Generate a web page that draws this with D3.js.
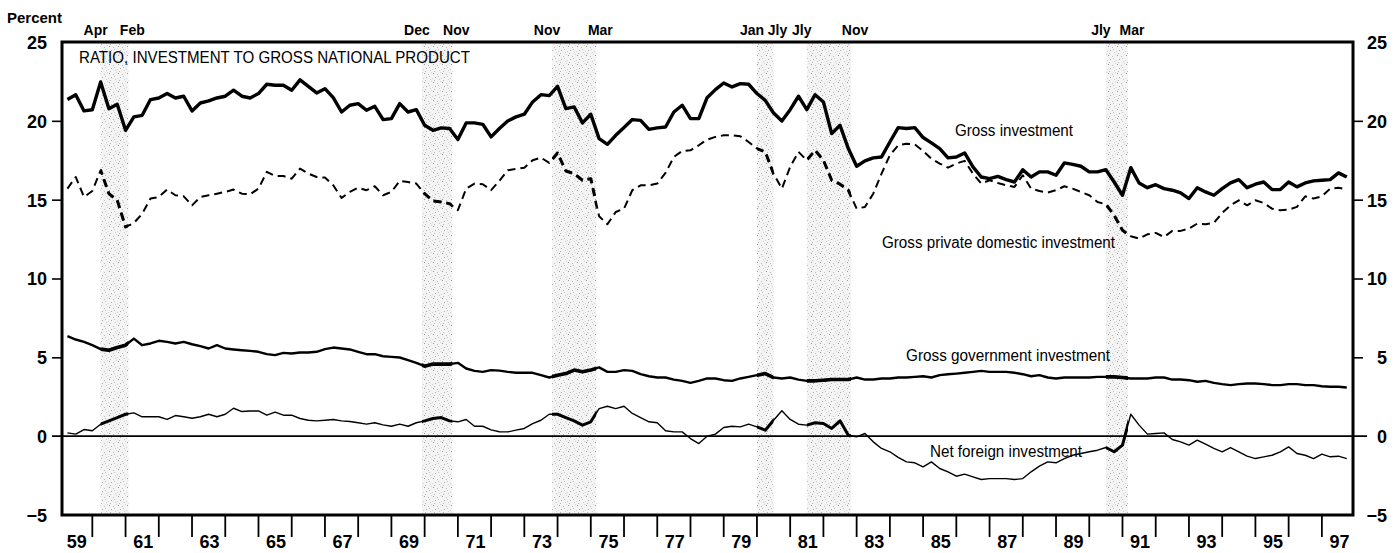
<!DOCTYPE html>
<html>
<head>
<meta charset="utf-8">
<script src="https://d3js.org/d3.v7.min.js"></script>
<style>
body { margin: 0; background: #fff; }
svg { display: block; font-family: "Liberation Sans", Arial, Helvetica, sans-serif; }
</style>
</head>
<body>
<svg width="1400" height="553"></svg>
<script>
//Quarterly ratios to GNP, first point is 1959 Q2
var firstQuarter = 1959.25

var grossInvestment = [
    21.35, 21.66, 20.63, 20.7, 22.47, 20.77, 21.05, 19.4, 20.25, 20.35,
    21.35, 21.45, 21.73, 21.45, 21.56, 20.63, 21.13, 21.26, 21.45, 21.56,
    21.94, 21.56, 21.45, 21.73, 22.32, 22.26, 22.26, 21.94, 22.6, 22.19,
    21.77, 22.04, 21.47, 20.56, 20.99, 21.09, 20.67, 20.92, 20.08, 20.14,
    21.09, 20.56, 20.71, 19.72, 19.4, 19.55, 19.51, 18.81, 19.87, 19.87,
    19.78, 18.98, 19.51, 19.99, 20.25, 20.42, 21.2, 21.66, 21.6, 22.19,
    20.77, 20.88, 19.87, 20.42, 18.87, 18.51, 19.08, 19.57, 20.08, 20.03,
    19.46, 19.55, 19.61, 20.56, 20.99, 20.14, 20.14, 21.47, 21.98, 22.4,
    22.15, 22.36, 22.32, 21.73, 21.3, 20.5, 19.99, 20.71, 21.56, 20.71,
    21.66, 21.2, 19.19, 19.72, 18.24, 17.12, 17.46, 17.65, 17.71, 18.66,
    19.57, 19.51, 19.57, 18.94, 18.6, 18.24, 17.65, 17.71, 17.96, 17.08,
    16.44, 16.33, 16.48, 16.27, 16.12, 16.9, 16.44, 16.76, 16.76, 16.55,
    17.33, 17.24, 17.12, 16.76, 16.76, 16.9, 16.12, 15.28, 17.03, 16.06,
    15.76, 15.95, 15.7, 15.6, 15.43, 15.07, 15.76, 15.49, 15.28, 15.7,
    16.06, 16.27, 15.76, 15.98, 16.12, 15.64, 15.64, 16.12, 15.81, 16.06,
    16.19, 16.23, 16.27, 16.7, 16.44
]

var privateInvestment = [
    15.7, 16.44, 15.17, 15.55, 16.86, 15.38, 14.96, 13.27, 13.52, 14.11,
    15.07, 15.17, 15.64, 15.28, 15.21, 14.64, 15.17, 15.28, 15.38, 15.49,
    15.64, 15.38, 15.34, 15.7, 16.76, 16.5, 16.5, 16.33, 16.97, 16.65,
    16.44, 16.4, 15.91, 15.11, 15.49, 15.76, 15.6, 15.85, 15.28, 15.49,
    16.19, 16.12, 16.02, 15.38, 14.92, 14.85, 14.75, 14.33, 15.7, 16.02,
    15.98, 15.6, 16.19, 16.86, 16.95, 17.03, 17.5, 17.67, 17.33, 17.96,
    16.82, 16.65, 16.23, 16.33, 13.95, 13.44, 14.22, 14.43, 15.6, 15.91,
    15.91, 16.02, 16.7, 17.71, 18.09, 18.13, 18.45, 18.81, 18.98, 19.08,
    19.08, 19.02, 18.66, 18.24, 18.03, 16.65, 15.7, 17.08, 18.03, 17.5,
    18.13, 17.5, 16.23, 15.98, 15.6, 14.43, 14.54, 15.38, 16.65, 17.82,
    18.45, 18.55, 18.51, 18.09, 17.6, 17.29, 17.03, 17.29, 17.46, 16.65,
    16.02, 16.23, 16.06, 15.91, 15.81, 16.55, 15.7, 15.55, 15.45, 15.6,
    15.85, 15.7, 15.49, 15.28, 14.85, 14.71, 14.01, 13.06, 12.68, 12.53,
    12.8, 12.89, 12.63, 13.02, 13.02, 13.16, 13.48, 13.44, 13.52, 14.16,
    14.64, 14.96, 14.64, 14.96, 14.79, 14.43, 14.33, 14.37, 14.54, 15.21,
    15.07, 15.21, 15.7, 15.76, 15.64
]

var governmentInvestment = [
    6.34, 6.13, 5.98, 5.77, 5.52, 5.45, 5.62, 5.77, 6.19, 5.77,
    5.88, 6.05, 5.98, 5.88, 5.98, 5.83, 5.71, 5.56, 5.77, 5.56,
    5.5, 5.45, 5.41, 5.35, 5.2, 5.14, 5.28, 5.24, 5.31, 5.31,
    5.35, 5.52, 5.62, 5.56, 5.5, 5.35, 5.2, 5.2, 5.07, 5.03,
    4.99, 4.82, 4.65, 4.44, 4.57, 4.57, 4.57, 4.65, 4.29, 4.14,
    4.08, 4.19, 4.16, 4.08, 4.02, 4.02, 4.02, 3.87, 3.72, 3.87,
    3.97, 4.19, 4.08, 4.19, 4.36, 4.08, 4.08, 4.19, 4.14, 3.93,
    3.8, 3.72, 3.72, 3.59, 3.51, 3.38, 3.51, 3.66, 3.66, 3.55,
    3.51, 3.66, 3.76, 3.87, 3.97, 3.72, 3.66, 3.72, 3.59, 3.51,
    3.51, 3.55, 3.59, 3.59, 3.59, 3.72, 3.59, 3.59, 3.66, 3.66,
    3.72, 3.72, 3.76, 3.8, 3.72, 3.87, 3.93, 3.97, 4.02, 4.08,
    4.14, 4.08, 4.08, 4.08, 4.02, 3.93, 3.8, 3.87, 3.72, 3.66,
    3.72, 3.72, 3.72, 3.72, 3.76, 3.76, 3.76, 3.72, 3.66, 3.66,
    3.66, 3.72, 3.72, 3.59, 3.59, 3.55, 3.45, 3.51, 3.38, 3.3,
    3.24, 3.3, 3.34, 3.34, 3.3, 3.24, 3.24, 3.3, 3.3, 3.24,
    3.24, 3.17, 3.13, 3.13, 3.09
]

var netForeignInvestment = [
    0.21, 0.13, 0.42, 0.34, 0.76, 0.97, 1.18, 1.39, 1.48, 1.23,
    1.23, 1.23, 1.06, 1.31, 1.23, 1.14, 1.23, 1.39, 1.23, 1.39,
    1.77, 1.56, 1.6, 1.6, 1.33, 1.52, 1.33, 1.33, 1.12, 1.01,
    0.97, 1.01, 1.06, 0.97, 0.93, 0.85, 0.76, 0.85, 0.72, 0.63,
    0.76, 0.63, 0.85, 0.97, 1.12, 1.18, 0.97, 0.91, 1.06, 0.63,
    0.63, 0.4, 0.28, 0.27, 0.38, 0.49, 0.8, 1.01, 1.39, 1.39,
    1.18, 0.97, 0.7, 0.91, 1.75, 1.9, 1.75, 1.9, 1.44, 1.18,
    0.91, 0.85, 0.34, 0.27, 0.27, -0.15, -0.47, 0, 0.13, 0.55,
    0.63, 0.59, 0.76, 0.59, 0.38, 1.01, 1.61, 1.06, 0.76, 0.7,
    0.85, 0.8, 0.49, 0.97, 0.06, -0.04, 0.17, -0.36, -0.78, -0.99,
    -1.35, -1.63, -1.69, -1.95, -1.63, -2.05, -2.26, -2.54, -2.41, -2.58,
    -2.75, -2.69, -2.69, -2.69, -2.75, -2.69, -2.26, -1.9, -1.63, -1.69,
    -1.42, -1.21, -1.1, -0.99, -0.89, -0.72, -0.99, -0.57, 1.39, 0.7,
    0.13, 0.17, 0.21, -0.21, -0.36, -0.57, -0.25, -0.51, -0.78, -0.99,
    -0.72, -0.99, -1.27, -1.42, -1.31, -1.21, -0.99, -0.68, -1.1, -1.21,
    -1.42, -1.14, -1.31, -1.27, -1.42
]

//Recessions, peak and trough as year fractions
var recessionPeaks = [1960.25, 1969.917, 1973.833, 1980.0, 1981.5, 1990.5]
var recessionTroughs = [1961.083, 1970.833, 1975.167, 1980.5, 1982.833, 1991.167]
var peakLabels = ["Apr", "Dec", "Nov", "Jan", "Jly", "Jly"]
var troughLabels = ["Feb", "Nov", "Mar", "Jly", "Nov", "Mar"]

var yTicks = [-5, 0, 5, 10, 15, 20, 25]
var yearTicks = d3.range(1960, 1998)
var yearLabels = ["59", "61", "63", "65", "67", "69", "71", "73", "75", "77",
    "79", "81", "83", "85", "87", "89", "91", "93", "95", "97"]

//Plot frame
var frameLeft = 62, frameRight = 1353, frameTop = 42, frameBottom = 515

var x = d3.scaleLinear().domain([1959, 1998]).range([59.1, 1355.1])
var y = d3.scaleLinear().domain([-5, 25]).range([frameBottom, frameTop])

var svg = d3.select("svg")

var defs = svg.append("defs")

//stipple for the recession bands
var pat = defs.append("pattern")
    .attr("id", "stipple")
    .attr("patternUnits", "userSpaceOnUse")
    .attr("width", 9)
    .attr("height", 9)
pat.append("rect").attr("width", 9).attr("height", 9).attr("fill", "#f4f4f4")
var dots = [[1, 1, "#9a9a9a"], [5, 2, "#bdbdbd"], [3, 5, "#acacac"], [7, 7, "#cccccc"],
    [0, 6, "#d2d2d2"], [6, 4, "#c2c2c2"], [2, 8, "#b8b8b8"], [8, 0, "#d6d6d6"]]
dots.forEach(function (d) {
    pat.append("rect").attr("x", d[0]).attr("y", d[1]).attr("width", 1).attr("height", 1).attr("fill", d[2])
})

var clip = defs.append("clipPath").attr("id", "recClip")
clip.selectAll("rect")
    .data(recessionPeaks)
    .enter()
    .append("rect")
    .attr("x", (d, i) => x(d))
    .attr("width", (d, i) => x(recessionTroughs[i]) - x(d))
    .attr("y", frameTop)
    .attr("height", frameBottom - frameTop)

//bands
svg.append("g")
    .selectAll("rect")
    .data(recessionPeaks)
    .enter()
    .append("rect")
    .attr("x", (d, i) => x(d))
    .attr("width", (d, i) => x(recessionTroughs[i]) - x(d))
    .attr("y", frameTop + 1)
    .attr("height", frameBottom - frameTop - 2)
    .attr("fill", "url(#stipple)")

//month labels above the frame
var monthFont = "bold 14px 'Liberation Sans', Arial, sans-serif"
svg.append("g")
    .selectAll("text")
    .data(recessionPeaks)
    .enter()
    .append("text")
    .attr("x", d => x(d) - 5)
    .attr("y", 35)
    .attr("text-anchor", "middle")
    .style("font", monthFont)
    .text((d, i) => peakLabels[i])

svg.append("g")
    .selectAll("text")
    .data(recessionTroughs)
    .enter()
    .append("text")
    .attr("x", d => x(d) + 4)
    .attr("y", 35)
    .attr("text-anchor", "middle")
    .style("font", monthFont)
    .text((d, i) => troughLabels[i])

//zero line
svg.append("line")
    .attr("x1", 52).attr("x2", 1367)
    .attr("y1", y(0)).attr("y2", y(0))
    .attr("stroke", "#000")
    .attr("stroke-width", 1.6)

//y axes
var yAxisLeft = svg.append("g")
    .attr("transform", "translate(" + frameLeft + ",0)")
    .call(d3.axisLeft(y).tickValues(yTicks).tickSize(10).tickPadding(5).tickFormat(d3.format("d")))
var yAxisRight = svg.append("g")
    .attr("transform", "translate(" + frameRight + ",0)")
    .call(d3.axisRight(y).tickValues(yTicks).tickSize(10).tickFormat(d3.format("d")))

;[yAxisLeft, yAxisRight].forEach(function (ax) {
    ax.select(".domain").remove()
    ax.selectAll(".tick line")
        .attr("stroke", "#000")
        .attr("stroke-width", 1.6)
        .attr("display", d => (d == 25 || d == -5 || d == 0) ? "none" : null)
    ax.selectAll(".tick text")
        .attr("fill", "#000")
        .attr("dy", "0.36em")
        .style("font", "bold 18px 'Liberation Sans', Arial, sans-serif")
})
yAxisRight.selectAll(".tick text").attr("text-anchor", "end").attr("x", 34)

//x ticks and year labels
svg.append("g")
    .selectAll("line")
    .data(yearTicks)
    .enter()
    .append("line")
    .attr("x1", d => x(d)).attr("x2", d => x(d))
    .attr("y1", frameBottom).attr("y2", frameBottom + 22)
    .attr("stroke", "#000")
    .attr("stroke-width", 1.8)

svg.append("g")
    .selectAll("text")
    .data(yearLabels)
    .enter()
    .append("text")
    .attr("x", d => x(1900 + (+d) + 0.5) + 1)
    .attr("y", 548)
    .attr("text-anchor", "middle")
    .style("font", "bold 18px 'Liberation Sans', Arial, sans-serif")
    .text(d => d)

//Define line generator
var line = d3.line()
    .x((d, i) => x(firstQuarter + i * 0.25))
    .y(d => y(d))

var lines = svg.append("g").attr("fill", "none").attr("stroke", "#000").attr("stroke-linejoin", "round")

lines.append("path").attr("d", line(netForeignInvestment)).attr("stroke-width", 1.4)
lines.append("path").attr("d", line(netForeignInvestment)).attr("stroke-width", 3).attr("clip-path", "url(#recClip)")

lines.append("path").attr("d", line(governmentInvestment)).attr("stroke-width", 2.4)
lines.append("path").attr("d", line(governmentInvestment)).attr("stroke-width", 3.6).attr("clip-path", "url(#recClip)")

lines.append("path").attr("d", line(privateInvestment)).attr("stroke-width", 2).attr("stroke-dasharray", "8,5")
lines.append("path").attr("d", line(privateInvestment)).attr("stroke-width", 3).attr("stroke-dasharray", "8,5").attr("clip-path", "url(#recClip)")

lines.append("path").attr("d", line(grossInvestment)).attr("stroke-width", 3.4)

//frame
svg.append("rect")
    .attr("x", frameLeft).attr("y", frameTop)
    .attr("width", frameRight - frameLeft).attr("height", frameBottom - frameTop)
    .attr("fill", "none")
    .attr("stroke", "#000")
    .attr("stroke-width", 3)

//texts
svg.append("text")
    .attr("x", 7).attr("y", 23)
    .style("font", "bold 15px 'Liberation Sans', Arial, sans-serif")
    .text("Percent")

svg.append("text")
    .attr("x", 79).attr("y", 63)
    .attr("textLength", 391).attr("lengthAdjust", "spacingAndGlyphs")
    .style("font", "16px 'Liberation Sans', Arial, sans-serif")
    .text("RATIO, INVESTMENT TO GROSS NATIONAL PRODUCT")

var seriesLabels = [
    ["Gross investment", 955, 136, 118],
    ["Gross private domestic investment", 882, 248, 233],
    ["Gross government investment", 906, 361, 204],
    ["Net foreign investment", 930, 457, 152]
]
svg.append("g")
    .selectAll("text")
    .data(seriesLabels)
    .enter()
    .append("text")
    .attr("x", d => d[1])
    .attr("y", d => d[2])
    .attr("textLength", d => d[3])
    .attr("lengthAdjust", "spacingAndGlyphs")
    .style("font", "16px 'Liberation Sans', Arial, sans-serif")
    .text(d => d[0])
</script>
</body>
</html>
